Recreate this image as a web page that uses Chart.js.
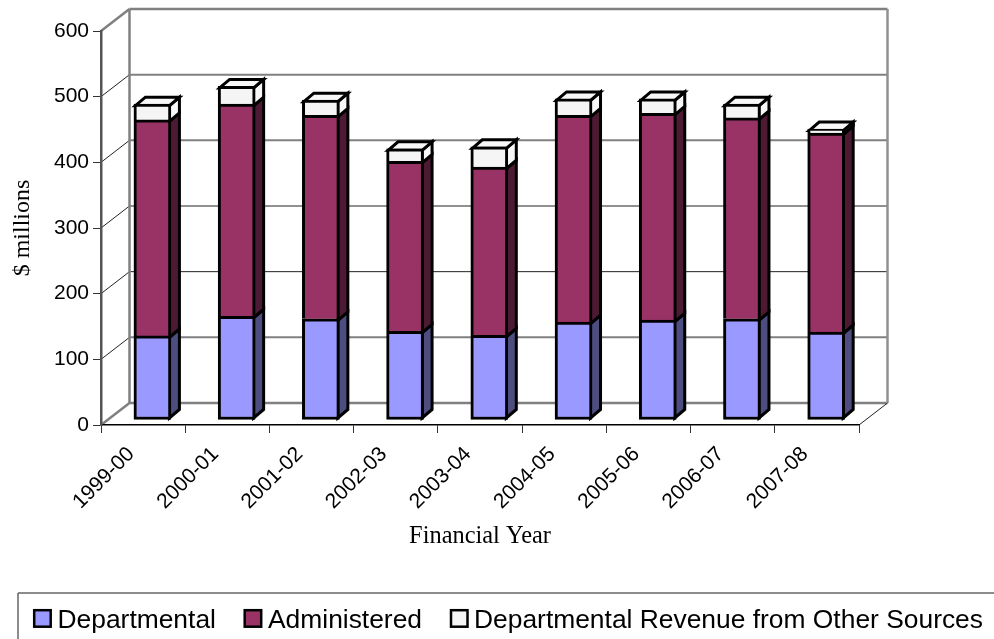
<!DOCTYPE html>
<html>
<head>
<meta charset="utf-8">
<title>Financial Year</title>
<script src="https://cdn.jsdelivr.net/npm/chart.js@4"></script>
<style>
html, body { margin: 0; padding: 0; background: #fff; overflow: hidden; }
canvas { display: block; }
</style>
</head>
<body>
<canvas id="chart" width="994" height="639"></canvas>
<script>
var years = ['1999-00', '2000-01', '2001-02', '2002-03', '2003-04', '2004-05', '2005-06', '2006-07', '2007-08'];
var departmental = [128, 158, 154, 135, 129, 149, 152, 154, 134];
var administered = [329, 323, 310, 259, 256, 315, 315, 306, 303];
var otherRevenue = [24, 27, 23, 19, 31, 25, 22, 21, 6];

var frontColors = ['#9999FF', '#993366', '#F5F5F5'];
var sideColors = ['#4D4D80', '#4D1A33', '#F8F8F8'];
var thinGrid = [200, 300];

// depth of the back wall and of the columns, in pixels
var wallX = 28.5, wallY = -22;
var barX = 10, barY = -8.5;
var shiftX = 9.3, shiftY = -5;

function line(ctx, x1, y1, x2, y2, color, width) {
  ctx.strokeStyle = color;
  ctx.lineWidth = width;
  ctx.beginPath();
  ctx.moveTo(x1, y1);
  ctx.lineTo(x2, y2);
  ctx.stroke();
}

function face(ctx, pts, fill) {
  ctx.fillStyle = fill;
  ctx.strokeStyle = '#000';
  ctx.lineWidth = 3;
  ctx.lineJoin = 'miter';
  ctx.beginPath();
  ctx.moveTo(pts[0][0], pts[0][1]);
  for (var i = 1; i < pts.length; i++) ctx.lineTo(pts[i][0], pts[i][1]);
  ctx.closePath();
  ctx.fill();
  ctx.stroke();
}

var walls = {
  id: 'walls',
  beforeDraw: function (chart) {
    var ctx = chart.ctx, a = chart.chartArea, y = chart.scales.y;
    ctx.save();
    var left = a.left + wallX, right = a.right + wallX;
    y.ticks.forEach(function (t) {
      var py = y.getPixelForValue(t.value);
      var edge = t.value === 0 || t.value === 600;
      line(ctx, a.left, py, left, py + wallY, edge ? '#808080' : '#222', edge ? 2.5 : 1);
      if (thinGrid.indexOf(t.value) >= 0) line(ctx, left, py + wallY, right, py + wallY, '#222', 1);
      else line(ctx, left, py + wallY, right, py + wallY, '#808080', edge ? 2.5 : 2);
    });
    line(ctx, left, a.top + wallY, left, a.bottom + wallY, '#808080', 2.5);
    line(ctx, right, a.top + wallY, right, a.bottom + wallY, '#909090', 2.5);
    line(ctx, a.right, a.bottom, right, a.bottom + wallY, '#222', 1);
    ctx.restore();
  },
  beforeDatasetsDraw: function (chart) {
    var ctx = chart.ctx, last = chart.data.datasets.length - 1;
    ctx.save();
    ctx.translate(shiftX, shiftY);
    chart.data.datasets.forEach(function (ds, d) {
      chart.getDatasetMeta(d).data.forEach(function (bar) {
        var x1 = bar.x - bar.width / 2 + 1.5, x2 = bar.x + bar.width / 2 - 1.5;
        var top = bar.y + 1.5, bottom = d === 0 ? bar.base - 1.5 : bar.base + 1.5;
        face(ctx, [[x2, top], [x2 + barX, top + barY], [x2 + barX, bottom + barY], [x2, bottom]], sideColors[d]);
        if (d === last) {
          face(ctx, [[x1, top], [x1 + barX, top + barY], [x2 + barX, top + barY], [x2, top]], sideColors[d]);
        }
      });
    });
  },
  afterDatasetsDraw: function (chart) {
    chart.ctx.restore();
  },
  afterDraw: function (chart) {
    // legend box runs off the bottom and right of the picture in the original
    var ctx = chart.ctx;
    ctx.save();
    line(ctx, 18, 593, 994, 593, '#666', 1.5);
    line(ctx, 18, 593, 18, 639, '#666', 1.5);
    var pos = [[34.2, 57.5], [244.7, 268], [451, 474]];
    ctx.font = '26.4px "Liberation Sans"';
    ctx.textBaseline = 'alphabetic';
    chart.data.datasets.forEach(function (ds, i) {
      ctx.fillStyle = frontColors[i];
      ctx.strokeStyle = '#000';
      ctx.lineWidth = 2.5;
      ctx.fillRect(pos[i][0], 610.2, 16.5, 16.5);
      ctx.strokeRect(pos[i][0], 610.2, 16.5, 16.5);
      ctx.fillStyle = '#000';
      ctx.fillText(ds.label, pos[i][1], 628);
    });
    ctx.restore();
  }
};

function series(label, values, i) {
  return {
    label: label,
    data: values,
    backgroundColor: frontColors[i],
    borderColor: '#000',
    borderWidth: 3,
    borderSkipped: i === 0 ? false : 'start',
    barThickness: 37
  };
}

new Chart(document.getElementById('chart'), {
  type: 'bar',
  data: {
    labels: years,
    datasets: [
      series('Departmental', departmental, 0),
      series('Administered', administered, 1),
      series('Departmental Revenue from Other Sources', otherRevenue, 2)
    ]
  },
  plugins: [walls],
  options: {
    responsive: false,
    animation: false,
    layout: { padding: { left: 0, top: 31, right: 135, bottom: 0 } },
    plugins: { legend: { display: false }, tooltip: { enabled: false } },
    scales: {
      x: {
        stacked: true,
        afterFit: function (s) { s.height = 214; },
        grid: { drawOnChartArea: false, offset: true, color: '#333', tickLength: 8, lineWidth: 1 },
        border: { color: '#000', width: 1.5 },
        ticks: {
          color: '#000', minRotation: 45, maxRotation: 45, padding: 9, labelOffset: -12,
          font: { family: '"Liberation Sans"', size: 21 }
        },
        title: {
          display: true, text: 'Financial Year', color: '#000',
          font: { family: '"Liberation Serif"', size: 24.4 },
          padding: { top: 0, bottom: 88 }
        }
      },
      y: {
        stacked: true,
        min: 0,
        max: 600,
        afterFit: function (s) { s.width = 101; },
        grid: { drawOnChartArea: false, color: '#333', tickLength: 8, lineWidth: 1 },
        border: { color: '#555', width: 2.5 },
        ticks: {
          stepSize: 100, color: '#000', padding: 4,
          font: { family: '"Liberation Sans"', size: 21 }
        },
        title: {
          display: true, text: '$ millions', color: '#000',
          font: { family: '"Liberation Serif"', size: 24 },
          padding: { top: 8, bottom: 0 }
        }
      }
    }
  }
});
</script>
</body>
</html>
